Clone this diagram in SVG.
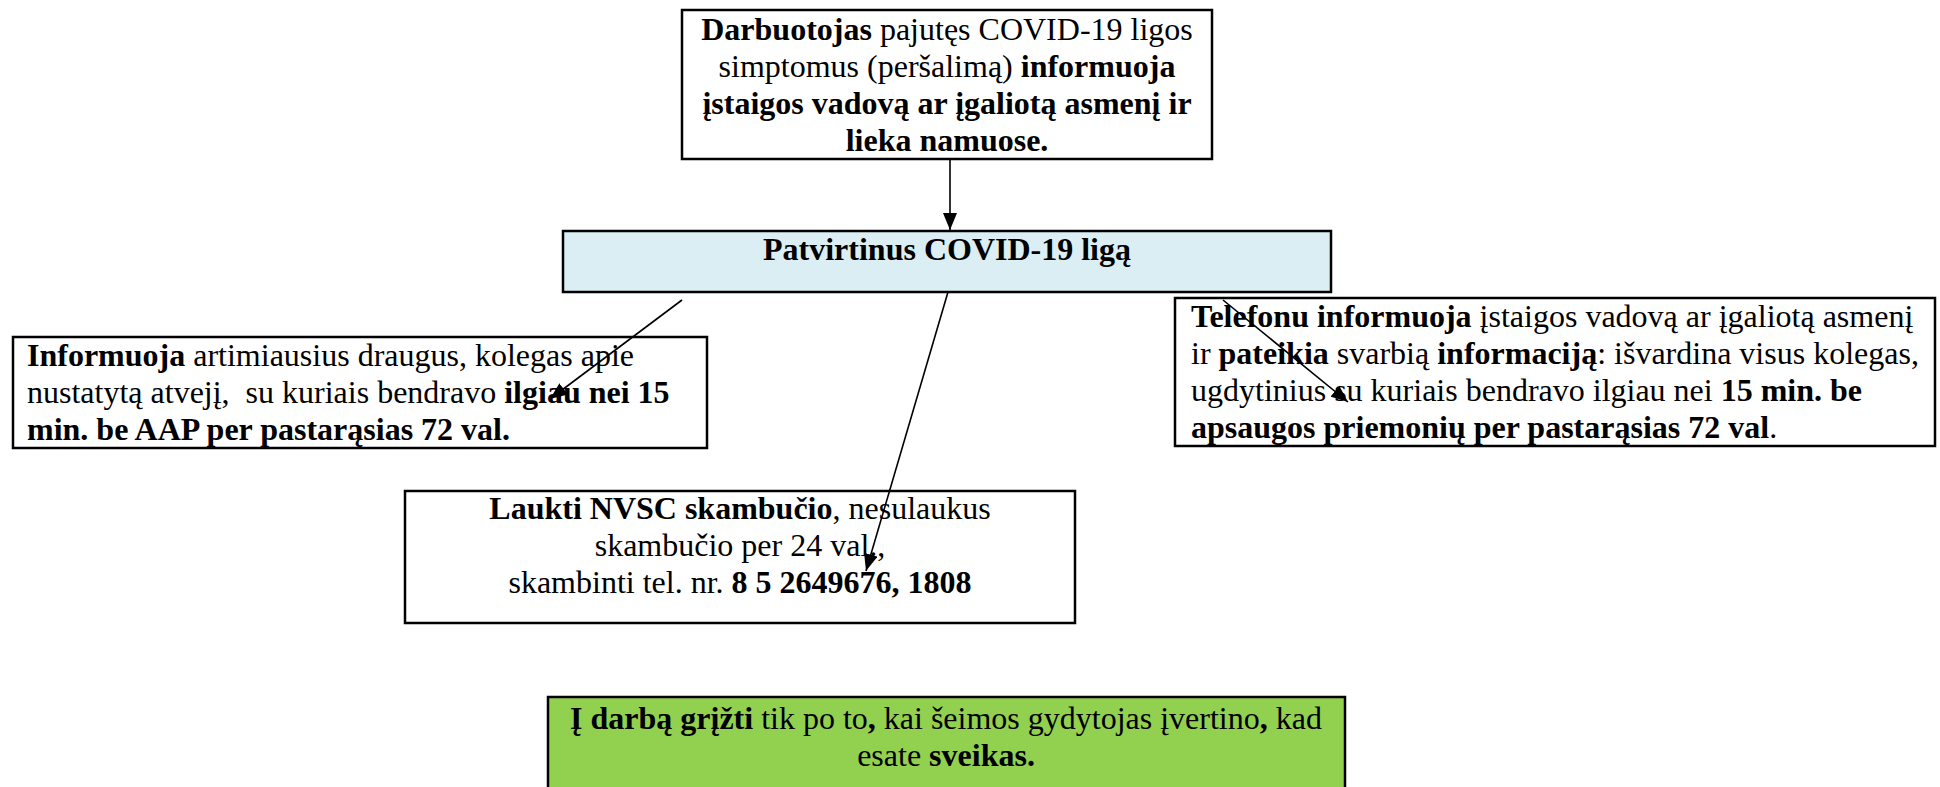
<svg xmlns="http://www.w3.org/2000/svg" width="1940" height="787" viewBox="0 0 1940 787">
<style>
.box{fill:#fff;stroke:#000;stroke-width:2.5}
.blue{fill:#DAEEF3}
.green{fill:#92D050}
text{font-family:"Liberation Serif","Times New Roman",serif;font-size:32px;fill:#000}
.c{text-anchor:middle}
.b{font-weight:bold}
.conn{stroke:#000;stroke-width:1.6;fill:none;marker-end:url(#ah)}
</style>
<defs>
<marker id="ah" markerUnits="userSpaceOnUse" markerWidth="18" markerHeight="14" refX="17" refY="7" orient="auto">
<path d="M0,0 L17,7 L0,14 Z" fill="#000"/>
</marker>
</defs>
<rect width="1940" height="787" fill="#fff"/>

<g id="n-darbuotojas">
<rect class="box" x="682" y="10" width="530" height="149"/>
<text class="c" x="947" y="40"><tspan class="b">Darbuotojas</tspan> pajutęs COVID-19 ligos</text>
<text class="c" x="947" y="77">simptomus (peršalimą) <tspan class="b">informuoja</tspan></text>
<text class="c b" x="947" y="114">įstaigos vadovą ar įgaliotą asmenį ir</text>
<text class="c b" x="947" y="151">lieka namuose.</text>
</g>

<g id="n-patvirtinus">
<rect class="box blue" x="563" y="231" width="768" height="61"/>
<text class="c b" x="947" y="260">Patvirtinus COVID-19 ligą</text>
</g>

<g id="n-informuoja">
<rect class="box" x="13" y="337" width="694" height="111"/>
<text x="27" y="366"><tspan class="b">Informuoja</tspan> artimiausius draugus, kolegas apie</text>
<text x="27" y="403">nustatytą atvejį,&#160; su kuriais bendravo <tspan class="b">ilgiau nei 15</tspan></text>
<text class="b" x="27" y="440">min. be AAP per pastarąsias 72 val.</text>
</g>

<g id="n-telefonu">
<rect class="box" x="1175" y="298" width="760" height="148"/>
<text x="1191" y="327"><tspan class="b">Telefonu informuoja</tspan> įstaigos vadovą ar įgaliotą asmenį</text>
<text x="1191" y="364">ir <tspan class="b">pateikia</tspan> svarbią <tspan class="b">informaciją</tspan>: išvardina visus kolegas,</text>
<text x="1191" y="401">ugdytinius su kuriais bendravo ilgiau nei <tspan class="b">15 min. be</tspan></text>
<text x="1191" y="438"><tspan class="b">apsaugos priemonių per pastarąsias 72 val</tspan>.</text>
</g>

<g id="n-laukti">
<rect class="box" x="405" y="491" width="670" height="132"/>
<text class="c" x="740" y="519"><tspan class="b">Laukti NVSC skambučio</tspan>, nesulaukus</text>
<text class="c" x="740" y="556">skambučio per 24 val.,</text>
<text class="c" x="740" y="593">skambinti tel. nr. <tspan class="b">8 5 2649676, 1808</tspan></text>
</g>

<g id="n-grizti">
<rect class="box green" x="548" y="697" width="797" height="110"/>
<text class="c" x="946" y="729"><tspan class="b">Į darbą grįžti</tspan> tik po to<tspan class="b">,</tspan> kai šeimos gydytojas įvertino<tspan class="b">,</tspan> kad</text>
<text class="c" x="946" y="766">esate <tspan class="b">sveikas.</tspan></text>
</g>

<g id="connectors">
<line class="conn" x1="950" y1="160" x2="950" y2="230"/>
<line class="conn" x1="682" y1="300" x2="550" y2="399"/>
<line class="conn" x1="948" y1="292" x2="866" y2="571"/>
<line class="conn" x1="1223" y1="300" x2="1348" y2="402"/>
</g>
</svg>
